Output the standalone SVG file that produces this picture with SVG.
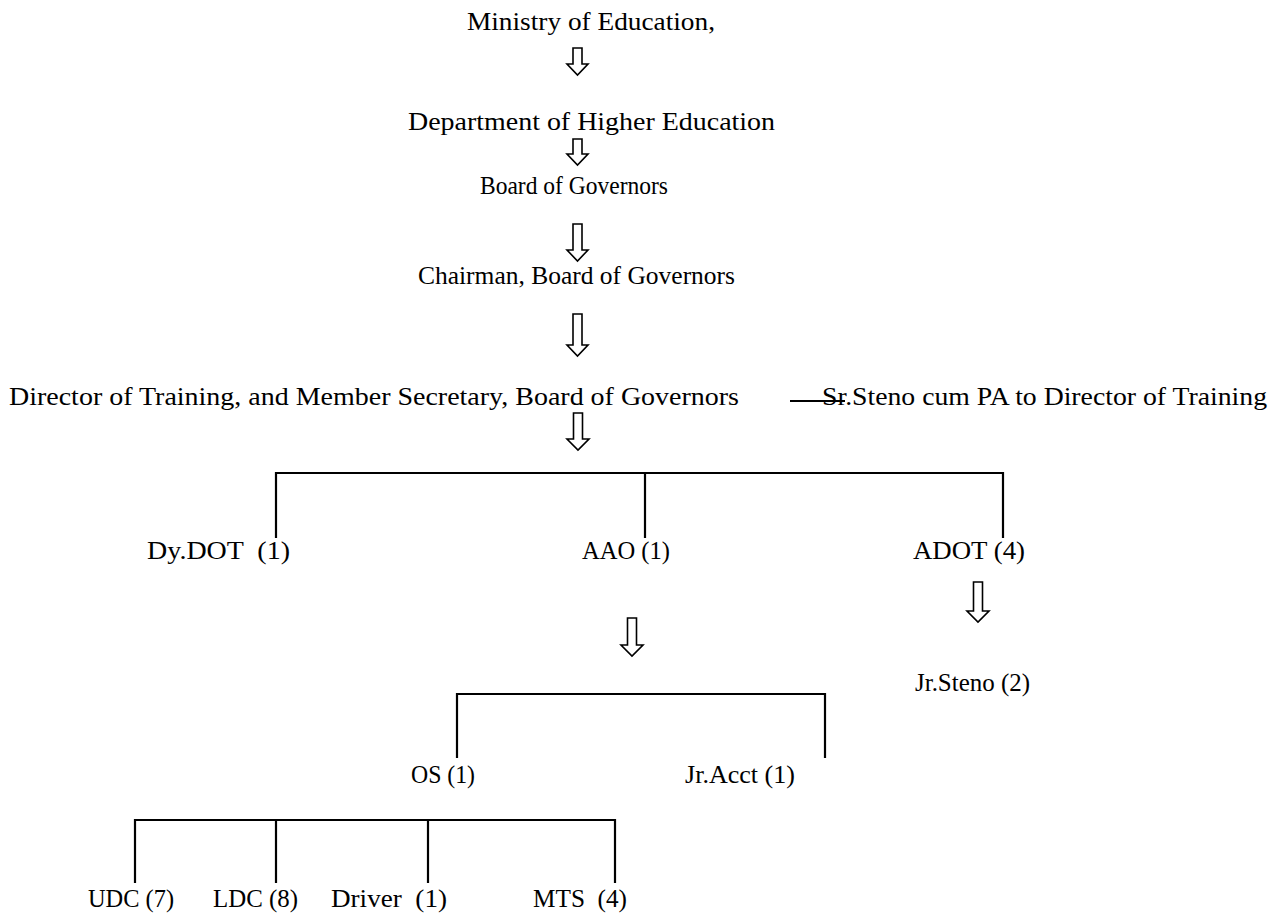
<svg xmlns="http://www.w3.org/2000/svg" width="1275" height="916" viewBox="0 0 1275 916">
<style>
text{font-family:"Liberation Serif","Times New Roman",serif;font-size:25px;fill:#000}
.ln{stroke:#000;stroke-width:2.2;fill:none}
.ar{fill:#fff;stroke:#000;stroke-width:1.6;stroke-linejoin:miter}
</style>
<rect width="1275" height="916" fill="#fff"/>
<g id="connectors">
<path class="ar" d="M573,48 H582 V64 H588 L577.5,75 L567,64 H573 Z"/>
<path class="ar" d="M573,139 H582 V154 H588 L577.5,165 L567,154 H573 Z"/>
<path class="ar" d="M573,224 H582 V250 H588 L577.5,261 L567,250 H573 Z"/>
<path class="ar" d="M573,314 H582 V345 H588 L577.5,356 L567,345 H573 Z"/>
<path class="ar" d="M573.5,413 H582.5 V439 H589 L578,450 L567,439 H573.5 Z"/>
<path class="ar" d="M627.5,618 H636.5 V645 H643 L632,656 L621,645 H627.5 Z"/>
<path class="ar" d="M973.5,582 H982.5 V611 H989 L978,622 L967,611 H973.5 Z"/>
<line class="ln" x1="790" y1="401" x2="845" y2="401"/>
<path class="ln" d="M276,538 V473 H1003 V538 M645,473 V538"/>
<path class="ln" d="M457,758 V694 H825 V758"/>
<path class="ln" d="M135,883 V820 H615 V883 M276,820 V883 M428,820 V883"/>
</g>
<g id="n1"><text x="467" y="30" textLength="248" lengthAdjust="spacingAndGlyphs">Ministry of Education,</text></g>
<g id="n2"><text x="408" y="130" textLength="367" lengthAdjust="spacingAndGlyphs">Department of Higher Education</text></g>
<g id="n3"><text x="480" y="194" textLength="188" lengthAdjust="spacingAndGlyphs">Board of Governors</text></g>
<g id="n4"><text x="418" y="284" textLength="317" lengthAdjust="spacingAndGlyphs">Chairman, Board of Governors</text></g>
<g id="n5"><text x="9" y="405" textLength="730" lengthAdjust="spacingAndGlyphs">Director of Training, and Member Secretary, Board of Governors</text></g>
<g id="n6"><text x="822" y="405" textLength="445" lengthAdjust="spacingAndGlyphs">Sr.Steno cum PA to Director of Training</text></g>
<g id="n7"><text x="147" y="559" textLength="143" lengthAdjust="spacingAndGlyphs" xml:space="preserve">Dy.DOT  (1)</text></g>
<g id="n8"><text x="582" y="559" textLength="88" lengthAdjust="spacingAndGlyphs">AAO (1)</text></g>
<g id="n9"><text x="913" y="559" textLength="112" lengthAdjust="spacingAndGlyphs">ADOT (4)</text></g>
<g id="n10"><text x="915" y="691" textLength="115" lengthAdjust="spacingAndGlyphs">Jr.Steno (2)</text></g>
<g id="n11"><text x="411" y="783" textLength="64" lengthAdjust="spacingAndGlyphs">OS (1)</text></g>
<g id="n12"><text x="685" y="783" textLength="110" lengthAdjust="spacingAndGlyphs">Jr.Acct (1)</text></g>
<g id="n13"><text x="88" y="907" textLength="86" lengthAdjust="spacingAndGlyphs">UDC (7)</text></g>
<g id="n14"><text x="213" y="907" textLength="85" lengthAdjust="spacingAndGlyphs">LDC (8)</text></g>
<g id="n15"><text x="331" y="907" textLength="116" lengthAdjust="spacingAndGlyphs" xml:space="preserve">Driver  (1)</text></g>
<g id="n16"><text x="533" y="907" textLength="94" lengthAdjust="spacingAndGlyphs" xml:space="preserve">MTS  (4)</text></g>
</svg>
